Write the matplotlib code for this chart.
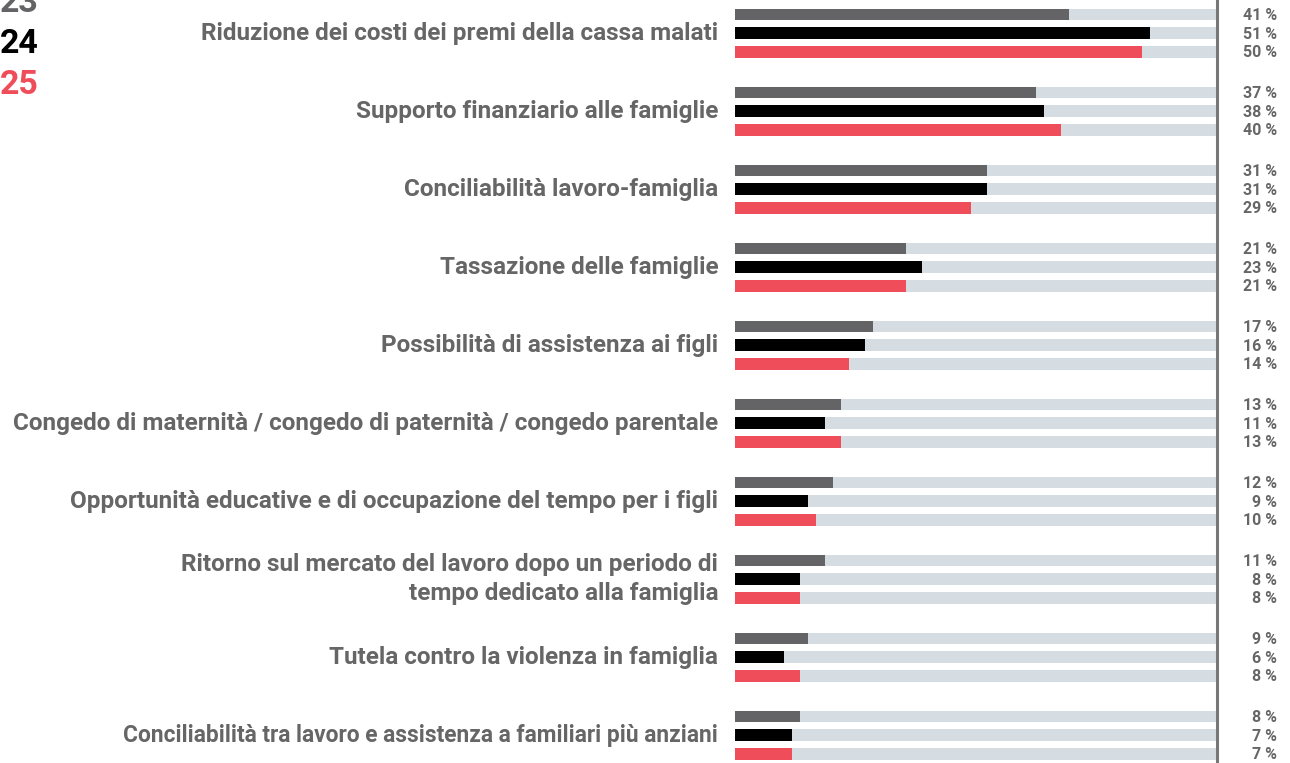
import matplotlib
matplotlib.use("Agg")
import matplotlib.pyplot as plt
from matplotlib.transforms import blended_transform_factory

plt.rcParams['font.family'] = ['Roboto', 'DejaVu Sans']

# data
categories = [
    "Riduzione dei costi dei premi della cassa malati",
    "Supporto finanziario alle famiglie",
    "Conciliabilità lavoro-famiglia",
    "Tassazione delle famiglie",
    "Possibilità di assistenza ai figli",
    "Congedo di maternità / congedo di paternità / congedo parentale",
    "Opportunità educative e di occupazione del tempo per i figli",
    "Ritorno sul mercato del lavoro dopo un periodo di\ntempo dedicato alla famiglia",
    "Tutela contro la violenza in famiglia",
    "Conciliabilità tra lavoro e assistenza a familiari più anziani",
]
years = ["23", "24", "25"]
values_2023 = [41, 37, 31, 21, 17, 13, 12, 11, 9, 8]
values_2024 = [51, 38, 31, 23, 16, 11, 9, 8, 6, 7]
values_2025 = [50, 40, 29, 21, 14, 13, 10, 8, 8, 7]
track_max = 59.2

colors = ["#646466", "#000000", "#ef4d5a"]
track_color = "#d5dde3"
text_gray = "#666666"

W, H = 1290, 763
fig = plt.figure(figsize=(W / 100, H / 100), dpi=100)
ax = fig.add_axes([735 / W, 0, (1217 - 735) / W, 1])
ax.set_xlim(0, track_max)
ax.set_ylim(H, 0)
ax.axis("off")

group_gap = 78
bar_gap = 18.7
first = 14.5
bar_h = 11.5

series = [values_2023, values_2024, values_2025]
lab_tr = blended_transform_factory(ax.transAxes, ax.transData)

for i, cat in enumerate(categories):
    base = first + i * group_gap
    for j, vals in enumerate(series):
        y = base + j * bar_gap
        ax.barh(y, track_max, height=bar_h, color=track_color, linewidth=0)
        ax.barh(y, vals[i], height=bar_h, color=colors[j], linewidth=0)
        ax.text(1.124, y + 1, f"{vals[i]} %", transform=lab_tr, ha="right", va="center",
                fontsize=11.5, fontweight="bold", color=text_gray)
    # last label is set tighter in the original
    fs = 16.4 if i == len(categories) - 1 else 17.5
    ax.text(-0.035, base + bar_gap, cat, transform=lab_tr, ha="right", va="center",
            fontsize=fs, fontweight="bold", color=text_gray, linespacing=1.3)

# vertical line at end of track
ax.plot([1, 1], [0, 1], transform=ax.transAxes, color="#777777", lw=2.2, clip_on=False)

# year legend top-left
for k, yr in enumerate(years):
    fig.text(0, 1 - (3 + k * 41) / H, yr, ha="left", va="center",
             fontsize=24.5, fontweight="bold", color=colors[k])

fig.savefig("out.png", dpi=100)
